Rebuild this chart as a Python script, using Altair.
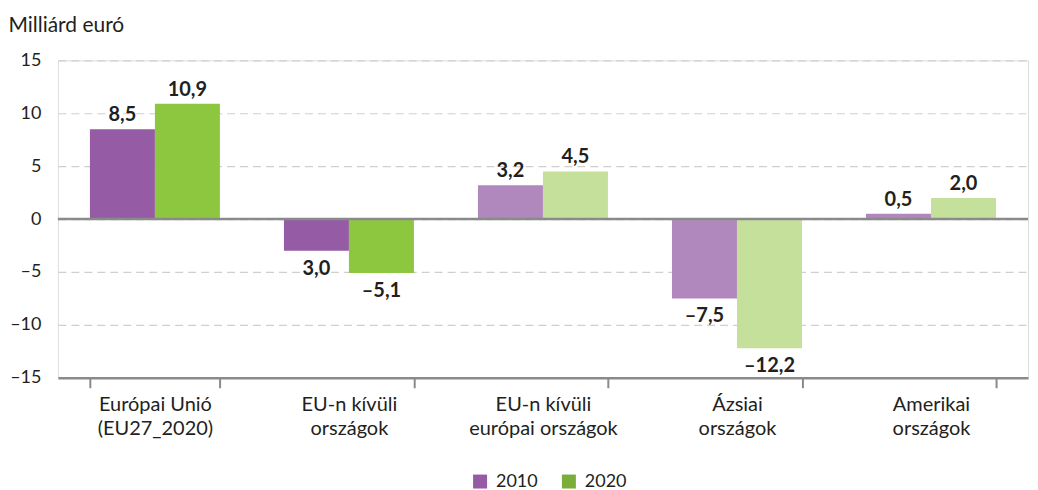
import altair as alt
import pandas as pd

categories = ["Európai Unió|(EU27_2020)", "EU-n kívüli|országok", "EU-n kívüli|európai országok",
              "Ázsiai|országok", "Amerikai|országok"]
years = ["2010", "2020"]
values_2010 = [8.5, -3.0, 3.2, -7.5, 0.5]
values_2020 = [10.9, -5.1, 4.5, -12.2, 2.0]
labels_2010 = ["8,5", "3,0", "3,2", "–7,5", "0,5"]
labels_2020 = ["10,9", "–5,1", "4,5", "–12,2", "2,0"]
shades = ["d", "d", "l", "l", "l"]
y_ticks = [-15, -10, -5, 0, 5, 10, 15]

rows = []
for i, c in enumerate(categories):
    rows.append(dict(cat=c, year="2010", value=values_2010[i], label=labels_2010[i], key="2010" + shades[i]))
    rows.append(dict(cat=c, year="2020", value=values_2020[i], label=labels_2020[i], key="2020" + shades[i]))
df = pd.DataFrame(rows)

FONT = "Lato"
TXT = "#231f20"

x_enc = alt.X("cat:N", sort=categories, title=None,
              scale=alt.Scale(paddingInner=0.33, paddingOuter=0.165),
              axis=alt.Axis(labelExpr="split(datum.label, '|')", labelAngle=0,
                            labelFontSize=20, labelColor=TXT, labelFont=FONT,
                            labelPadding=7, labelLineHeight=24,
                            tickBand="extent", tickSize=10, tickWidth=2, tickColor="#8a8a8a",
                            domainColor="#8a8a8a", domainWidth=2.5, grid=False))
y_scale = alt.Scale(domain=[-15, 15], nice=False, zero=False)
y_enc = alt.Y("value:Q", scale=y_scale,
              axis=alt.Axis(values=y_ticks, labelExpr="replace(datum.label, '−', '–')",
                            labelFontSize=18, labelColor=TXT, labelFont=FONT,
                            labelPadding=17, tickSize=0, domain=False,
                            grid=True, gridColor="#cfcfcf", gridDash=[8, 5], gridWidth=1.2,
                            title="Milliárd euró", titleAngle=0, titleAlign="left",
                            titleBaseline="alphabetic", titleX=-50, titleY=-29,
                            titleFontSize=21, titleFontWeight="normal", titleColor=TXT,
                            titleFont=FONT))

base = alt.Chart(df)

bars = base.mark_bar().encode(
    x=x_enc,
    xOffset=alt.XOffset("year:N", sort=years),
    y=y_enc,
    color=alt.Color("key:N", legend=None,
                    scale=alt.Scale(domain=["2010d", "2020d", "2010l", "2020l"],
                                    range=["#955ba5", "#8dc63f", "#b088bd", "#c5e09b"])),
)

zero = alt.Chart(pd.DataFrame({"v": [0]})).mark_rule(color="#8a8a8a", strokeWidth=2.5).encode(
    y=alt.Y("v:Q", scale=y_scale)
)

pos_text = base.transform_filter("datum.value >= 0").mark_text(
    baseline="alphabetic", dy=-8, fontSize=20, fontWeight="bold", font=FONT, color=TXT
).encode(x=alt.X("cat:N", sort=categories), xOffset=alt.XOffset("year:N", sort=years),
         y=alt.Y("value:Q", scale=y_scale), text="label:N")

neg_text = base.transform_filter("datum.value < 0").mark_text(
    baseline="top", dy=8, fontSize=20, fontWeight="bold", font=FONT, color=TXT
).encode(x=alt.X("cat:N", sort=categories), xOffset=alt.XOffset("year:N", sort=years),
         y=alt.Y("value:Q", scale=y_scale), text="label:N")

legend_df = pd.DataFrame({"year": years, "v": [0, 0]})
legend_layer = alt.Chart(legend_df).mark_point(shape="square", filled=True, opacity=0).encode(
    y=alt.Y("v:Q", scale=y_scale),
    color=alt.Color("year:N", scale=alt.Scale(domain=years, range=["#955ba5", "#7aae3a"]),
                    legend=alt.Legend(title=None, orient="none", direction="horizontal",
                                      legendX=414, legendY=413, symbolType="square",
                                      symbolSize=196, symbolOpacity=1, symbolStrokeWidth=0,
                                      labelFontSize=18, labelFont=FONT, labelColor=TXT,
                                      columnPadding=22, labelOffset=7))
)

chart = alt.layer(bars, zero, pos_text, neg_text, legend_layer).resolve_scale(
    color="independent"
).properties(
    width=972, height=318, padding={"left": 0, "top": 6, "right": 0, "bottom": 0}
).configure_view(stroke=None).configure(background="white")

chart.save("out.html", embed_options={"renderer": "svg", "actions": False})
